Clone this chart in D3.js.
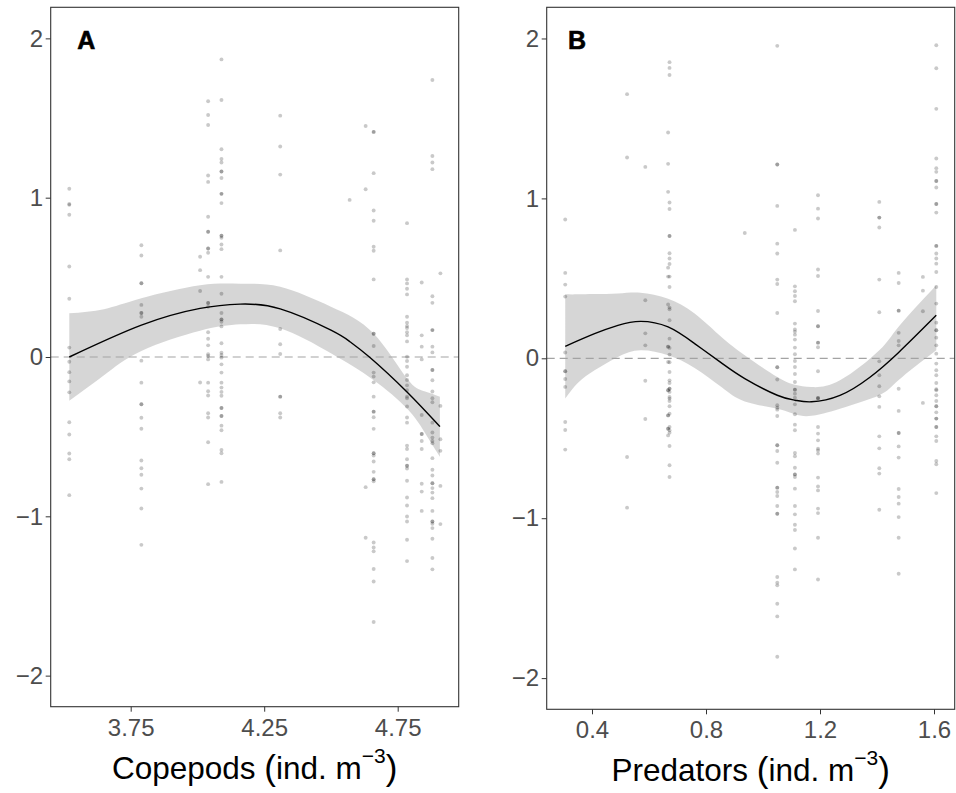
<!DOCTYPE html>
<html>
<head>
<meta charset="utf-8">
<script src="https://cdn.jsdelivr.net/npm/d3@7"></script>
<style>
  html, body { margin: 0; padding: 0; background: #ffffff; }
  svg { display: block; }
  .tick text { font-family: "Liberation Sans", Arial, Helvetica, sans-serif; font-size: 24px; fill: #4d4d4d; }
  .tick line { stroke: #333333; stroke-width: 1; }
</style>
</head>
<body>
<svg id="chart" width="956" height="793"></svg>
<script>
// ---- Panel A: copepod abundance (log10 ind. m^-3) vs. partial residuals ----
const copeCols = [3.52, 3.79, 4.01, 4.04, 4.09, 4.31, 4.57, 4.63, 4.66, 4.785, 4.84, 4.88, 4.91];
const copeResid = [
  [1.056, 0.96, 0.955, 0.893, 0.568, 0.366, 0.059, -0.03, -0.095, -0.153, -0.222, -0.41, -0.486, -0.606, -0.642, -0.867],
  [0.701, 0.637, 0.463, 0.463, 0.327, 0.276, 0.276, 0.253, -0.023, -0.161, -0.297, -0.297, -0.381, -0.45, -0.65, -0.698, -0.739, -0.826, -0.951, -1.179],
  [0.629, 0.545, 0.414, -0.16],
  [1.605, 1.519, 1.456, 1.139, 1.099, 0.88, 0.786, 0.786, 0.681, 0.681, 0.654, 0.503, 0.339, 0.339, 0.315, 0.155, 0.115, 0.073, 0.017, 0.006, -0.015, -0.161, -0.215, -0.242, -0.353, -0.38, -0.535, -0.798],
  [1.868, 1.613, 1.304, 1.243, 1.221, 1.164, 1.164, 1.124, 1.024, 1.024, 0.966, 0.761, 0.761, 0.748, 0.706, 0.677, 0.503, 0.397, 0.276, 0.236, 0.236, 0.221, 0.192, 0.086, 0.027, 0.013, -0.004, -0.046, -0.098, -0.161, -0.192, -0.219, -0.243, -0.32, -0.32, -0.37, -0.37, -0.431, -0.46, -0.583, -0.604, -0.784],
  [1.515, 1.321, 1.145, 0.669, 0.176, 0.08, 0.019, -0.249, -0.249, -0.353, -0.38],
  [0.986],
  [1.45, 1.053, -0.817, -1.135],
  [1.413, 1.413, 1.154, 0.92, 0.855, 0.692, 0.667, 0.487, 0.146, 0.146, 0.069, -0.098, -0.123, -0.159, -0.249, -0.343, -0.343, -0.378, -0.451, -0.604, -0.604, -0.619, -0.656, -0.721, -0.767, -0.767, -0.78, -1.164, -1.196, -1.22, -1.331, -1.409, -1.663],
  [0.84, 0.487, 0.462, 0.428, 0.393, 0.253, 0.215, 0.194, 0.182, 0.155, 0.136, 0.098, 0.002, -0.025, -0.061, -0.115, -0.144, -0.178, -0.209, -0.249, -0.259, -0.311, -0.38, -0.412, -0.556, -0.577, -0.642, -0.683, -0.683, -0.7, -0.777, -0.882, -0.932, -1.001, -1.033, -1.147, -1.281],
  [0.468, 0.136, 0.065, -0.015, -0.364, -0.483, -0.483, -0.527, -0.577, -0.796, -0.845, -0.966],
  [1.739, 1.262, 1.221, 1.179, 0.381, 0.34, 0.169, 0.169, 0.065, 0.029, -0.082, -0.082, -0.146, -0.217, -0.259, -0.284, -0.412, -0.474, -0.506, -0.527, -0.541, -0.635, -0.708, -0.744, -0.792, -0.792, -0.823, -0.851, -0.886, -0.966, -1.033, -1.033, -1.047, -1.074, -1.141, -1.262, -1.333],
  [0.525, -0.307, -0.516, -0.589, -0.809, -1.049]
];
// fitted smooth
const copeFitX = [3.52, 3.79, 4.01, 4.16, 4.31, 4.5, 4.571, 4.644, 4.784, 4.908];
const copeFit  = [0.0, 0.2, 0.305, 0.332, 0.302, 0.168, 0.096, 0.0, -0.218, -0.437];
// confidence band around the smooth
const copeBandX = [3.52, 3.65, 3.79, 4.01, 4.16, 4.31, 4.5, 4.659, 4.784, 4.85, 4.908];
const copeHi    = [0.274, 0.30, 0.368, 0.45, 0.46, 0.441, 0.316, 0.149, -0.134, -0.215, -0.249];
const copeLo    = [-0.274, -0.115, 0.038, 0.165, 0.205, 0.18, 0.023, -0.144, -0.322, -0.47, -0.626];
const copeTicks = [3.75, 4.25, 4.75];

// ---- Panel B: predator abundance vs. partial residuals ----
const predCols = [0.306, 0.523, 0.587, 0.667, 0.672, 0.936, 1.05, 1.112, 1.193, 1.408, 1.476, 1.561, 1.608];
const predResid = [
  [0.868, 0.534, 0.461, 0.386, 0.036, -0.081, -0.081, -0.129, -0.179, -0.398, -0.448, -0.571],
  [1.652, 1.256, -0.617, -0.934],
  [1.197, 0.363, 0.156, 0.081, -0.14, -0.38],
  [1.412, 1.216, 1.041, 0.567, 0.511, 0.336, 0.073, 0.073, -0.023, -0.2, -0.2, -0.357, -0.357, -0.44, -0.44, -0.482],
  [1.852, 1.816, 1.772, 0.974, 0.934, 0.765, 0.765, 0.657, 0.624, 0.59, 0.511, 0.446, 0.317, 0.307, 0.238, 0.123, 0.065, 0.023, -0.025, -0.086, -0.138, -0.19, -0.19, -0.252, -0.154, -0.21, -0.242, -0.267, -0.3, -0.346, -0.43, -0.45, -0.465, -0.548, -0.669, -0.742],
  [0.784],
  [1.954, 1.212, 1.212, 0.953, 0.717, 0.655, 0.492, 0.465, 0.283, -0.056, -0.056, -0.133, -0.294, -0.309, -0.321, -0.361, -0.544, -0.544, -0.58, -0.653, -0.809, -0.809, -0.836, -0.861, -0.924, -0.972, -0.972, -1.368, -1.403, -1.42, -1.535, -1.614, -1.866],
  [0.803, 0.45, 0.419, 0.39, 0.357, 0.217, 0.18, 0.167, 0.148, 0.117, 0.067, 0.025, -0.017, -0.054, -0.098, -0.148, -0.196, -0.196, -0.221, -0.246, -0.288, -0.35, -0.415, -0.45, -0.592, -0.613, -0.684, -0.726, -0.726, -0.742, -0.815, -0.924, -0.976, -1.041, -1.074, -1.189, -1.32],
  [1.02, 0.936, 0.874, 0.555, 0.515, 0.296, 0.2, 0.2, 0.098, 0.098, 0.069, -0.081, -0.248, -0.248, -0.252, -0.43, -0.471, -0.513, -0.565, -0.576, -0.596, -0.746, -0.801, -0.826, -0.94, -0.968, -1.122, -1.383],
  [0.978, 0.88, 0.88, 0.818, 0.492, 0.288, -0.019, -0.106, -0.175, -0.238, -0.304, -0.488, -0.563, -0.688, -0.721, -0.947],
  [0.534, 0.471, 0.298, 0.298, 0.159, 0.108, 0.081, -0.19, -0.329, -0.467, -0.467, -0.551, -0.621, -0.817, -0.867, -0.909, -0.993, -1.122, -1.347],
  [0.509, 0.423, 0.294, -0.279],
  [1.958, 1.814, 1.56, 1.249, 1.189, 1.166, 1.109, 1.109, 1.068, 0.965, 0.965, 0.911, 0.703, 0.703, 0.655, 0.624, 0.592, 0.54, 0.446, 0.342, 0.223, 0.175, 0.175, 0.129, 0.081, 0.029, -0.033, -0.075, -0.106, -0.154, -0.194, -0.231, -0.2, -0.267, -0.3, -0.3, -0.338, -0.377, -0.377, -0.43, -0.43, -0.488, -0.517, -0.642, -0.663, -0.843]
];
const predFitX = [0.306, 0.409, 0.491, 0.57, 0.667, 0.76, 0.854, 0.936, 1.05, 1.112, 1.17, 1.27, 1.374, 1.475, 1.608];
const predFit  = [0.075, 0.154, 0.206, 0.231, 0.196, 0.092, -0.029, -0.127, -0.231, -0.262, -0.272, -0.232, -0.12, 0.035, 0.269];
const predBandX = [0.306, 0.35, 0.409, 0.491, 0.57, 0.667, 0.76, 0.854, 0.936, 1.05, 1.112, 1.17, 1.27, 1.408, 1.475, 1.608];
const predHi    = [0.4, 0.4, 0.402, 0.405, 0.41, 0.373, 0.28, 0.133, 0.019, -0.117, -0.165, -0.18, -0.138, 0.05, 0.196, 0.457];
const predLo    = [-0.252, -0.155, -0.075, 0.008, 0.05, 0.019, -0.06, -0.18, -0.27, -0.315, -0.35, -0.36, -0.315, -0.231, -0.138, 0.05];
const predTicks = [0.4, 0.8, 1.2, 1.6];

const yTicks = [-2, -1, 0, 1, 2];

const svg = d3.select("#chart");
const FONT = '"Liberation Sans", Arial, Helvetica, sans-serif';

function drawPanel(opt) {
  const x = d3.scaleLinear().domain(opt.xDomain).range([opt.left, opt.right]);
  const y = d3.scaleLinear().domain([-2.195, 2.195]).range([opt.bottom, opt.top]);
  const g = svg.append("g");

  // confidence band
  const band = opt.bandX.map((v, i) => ({x: v, lo: opt.lo[i], hi: opt.hi[i]}));
  g.append("path")
    .datum(band)
    .attr("d", d3.area().curve(d3.curveNatural)
      .x(d => x(d.x)).y0(d => y(d.lo)).y1(d => y(d.hi)))
    .attr("fill", "#999999").attr("fill-opacity", 0.4);

  // zero reference line
  g.append("line")
    .attr("x1", opt.left).attr("x2", opt.right)
    .attr("y1", y(0)).attr("y2", y(0))
    .attr("stroke", "#a3a3a3").attr("stroke-width", 1.2)
    .attr("stroke-dasharray", "8,5");

  // residual points
  const pts = [];
  opt.cols.forEach((cx, i) => opt.resid[i].forEach(v => pts.push({x: cx, y: v})));
  g.append("g").selectAll("circle").data(pts).join("circle")
    .attr("cx", d => x(d.x)).attr("cy", d => y(d.y)).attr("r", 1.95)
    .attr("fill", "#000000").attr("fill-opacity", 0.21);

  // fitted smooth
  const fit = opt.fitX.map((v, i) => ({x: v, y: opt.fit[i]}));
  g.append("path")
    .datum(fit)
    .attr("d", d3.line().curve(d3.curveNatural).x(d => x(d.x)).y(d => y(d.y)))
    .attr("fill", "none").attr("stroke", "#000000").attr("stroke-width", 1.4);

  // panel border
  g.append("rect")
    .attr("x", opt.left).attr("y", opt.top)
    .attr("width", opt.right - opt.left).attr("height", opt.bottom - opt.top)
    .attr("fill", "none").attr("stroke", "#333333").attr("stroke-width", 1.1);

  // axes
  const ax = g.append("g").attr("transform", `translate(0,${opt.bottom})`)
    .call(d3.axisBottom(x).tickValues(opt.ticks).tickFormat(d3.format(opt.fmt))
      .tickSize(5).tickSizeOuter(0).tickPadding(7));
  ax.select(".domain").remove();
  const ay = g.append("g").attr("transform", `translate(${opt.left},0)`)
    .call(d3.axisLeft(y).tickValues(yTicks).tickFormat(d3.format("d"))
      .tickSize(5).tickSizeOuter(0).tickPadding(2.5));
  ay.select(".domain").remove();
  g.selectAll(".tick text").attr("font-family", null).attr("font-size", null);

  // panel tag
  g.append("text")
    .attr("x", opt.left + opt.tagDx).attr("y", 49)
    .attr("font-family", FONT).attr("font-weight", "bold").attr("font-size", 25)
    .attr("fill", "#000000").attr("stroke", "#000000").attr("stroke-width", 0.6)
    .text(opt.tag);

  // axis title with superscript unit
  const t = g.append("text")
    .attr("x", (opt.left + opt.right) / 2).attr("y", opt.titleY)
    .attr("text-anchor", "middle")
    .attr("font-family", FONT).attr("font-size", 31.5).attr("fill", "#000000");
  t.append("tspan").text(opt.title + " ");
  t.append("tspan").attr("font-size", 35).attr("dy", 1).text("(");
  t.append("tspan").attr("dy", -1).text("ind.\u00a0m");
  t.append("tspan").attr("font-size", 21).attr("dy", -16).text("\u22123");
  t.append("tspan").attr("font-size", 35).attr("dy", 17).text(")");
}

drawPanel({
  left: 50.7, right: 458.7, top: 7.3, bottom: 706.7,
  xDomain: [3.4504, 4.9785],
  cols: copeCols, resid: copeResid,
  fitX: copeFitX, fit: copeFit,
  bandX: copeBandX, lo: copeLo, hi: copeHi,
  ticks: copeTicks, fmt: ".2f",
  tag: "A", tagDx: 26.5,
  title: "Copepods", titleY: 779
});

drawPanel({
  left: 546.7, right: 954.7, top: 7.3, bottom: 709.3,
  xDomain: [0.241, 1.6726],
  cols: predCols, resid: predResid,
  fitX: predFitX, fit: predFit,
  bandX: predBandX, lo: predLo, hi: predHi,
  ticks: predTicks, fmt: ".1f",
  tag: "B", tagDx: 21.3,
  title: "Predators", titleY: 781
});
</script>
</body>
</html>
